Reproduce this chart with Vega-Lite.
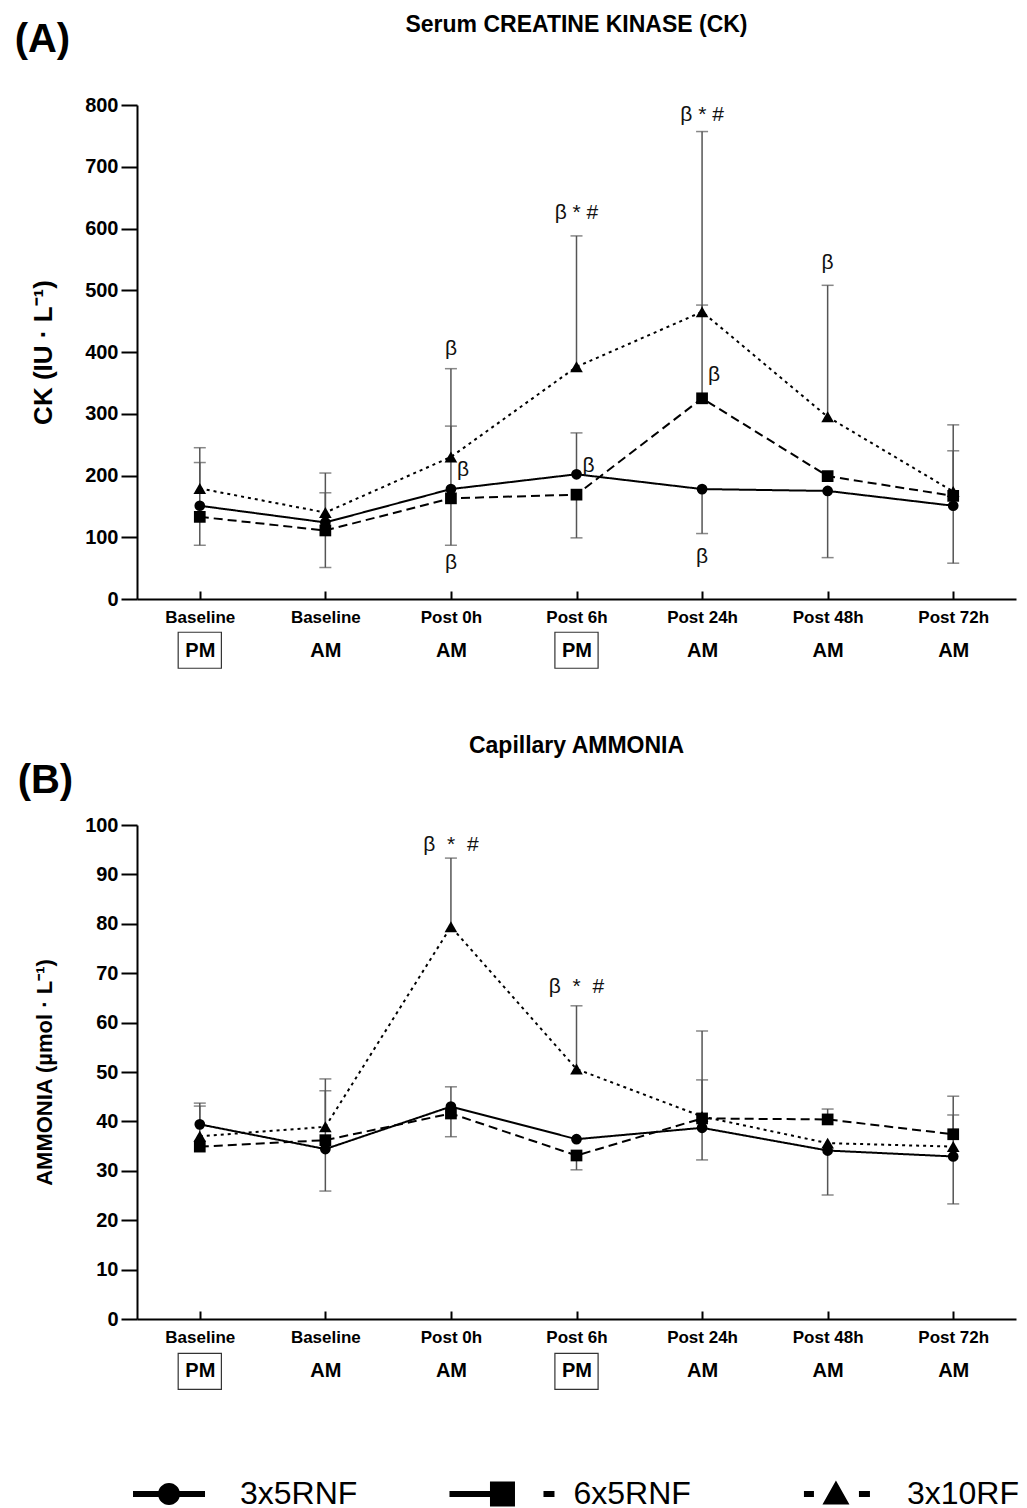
{
  "$schema": "https://vega.github.io/schema/vega-lite/v6.json",
  "padding": {"left": 14, "top": 14, "right": 0, "bottom": 0},
  "background": "white",
  "config": {
    "view": {"stroke": null},
    "font": "Liberation Sans",
    "axis": {"domainColor": "black", "domainWidth": 2, "tickColor": "black", "tickWidth": 2, "labelColor": "black", "titleColor": "black", "grid": false, "labelFont": "Liberation Sans", "titleFont": "Liberation Sans"},
    "axisY": {"tickSize": 16, "labelPadding": 3, "labelFontSize": 20, "labelFontWeight": "bold", "titleFontSize": 22, "titleFontWeight": "bold", "titlePadding": 28},
    "title": {"color": "black", "font": "Liberation Sans"}
  },
  "datasets": {
    "ck": [
      {"series": "3x5RNF", "tp": "Baseline|PM", "value": 151, "bar": 221},
      {"series": "3x5RNF", "tp": "Baseline|AM", "value": 124, "bar": 172},
      {"series": "3x5RNF", "tp": "Post 0h|AM", "value": 178, "bar": 280},
      {"series": "3x5RNF", "tp": "Post 6h|PM", "value": 202, "bar": 269},
      {"series": "3x5RNF", "tp": "Post 24h|AM", "value": 178, "bar": 106},
      {"series": "3x5RNF", "tp": "Post 48h|AM", "value": 175, "bar": 67},
      {"series": "3x5RNF", "tp": "Post 72h|AM", "value": 151, "bar": 58},
      {"series": "6x5RNF", "tp": "Baseline|PM", "value": 133, "bar": 87},
      {"series": "6x5RNF", "tp": "Baseline|AM", "value": 111, "bar": 51},
      {"series": "6x5RNF", "tp": "Post 0h|AM", "value": 163, "bar": 87},
      {"series": "6x5RNF", "tp": "Post 6h|PM", "value": 169, "bar": 99},
      {"series": "6x5RNF", "tp": "Post 24h|AM", "value": 325, "bar": 476},
      {"series": "6x5RNF", "tp": "Post 48h|AM", "value": 199, "bar": null},
      {"series": "6x5RNF", "tp": "Post 72h|AM", "value": 167, "bar": 240},
      {"series": "3x10RF", "tp": "Baseline|PM", "value": 179, "bar": 245},
      {"series": "3x10RF", "tp": "Baseline|AM", "value": 140, "bar": 204},
      {"series": "3x10RF", "tp": "Post 0h|AM", "value": 230, "bar": 373},
      {"series": "3x10RF", "tp": "Post 6h|PM", "value": 376, "bar": 588},
      {"series": "3x10RF", "tp": "Post 24h|AM", "value": 465, "bar": 757},
      {"series": "3x10RF", "tp": "Post 48h|AM", "value": 295, "bar": 508},
      {"series": "3x10RF", "tp": "Post 72h|AM", "value": 174, "bar": 282}
    ],
    "nh3": [
      {"series": "3x5RNF", "tp": "Baseline|PM", "value": 39.4, "bar": 43.7},
      {"series": "3x5RNF", "tp": "Baseline|AM", "value": 34.4, "bar": 25.9},
      {"series": "3x5RNF", "tp": "Post 0h|AM", "value": 43.0, "bar": 47.0},
      {"series": "3x5RNF", "tp": "Post 6h|PM", "value": 36.4, "bar": null},
      {"series": "3x5RNF", "tp": "Post 24h|AM", "value": 38.7, "bar": 32.2},
      {"series": "3x5RNF", "tp": "Post 48h|AM", "value": 34.1, "bar": 25.1},
      {"series": "3x5RNF", "tp": "Post 72h|AM", "value": 32.9, "bar": 23.3},
      {"series": "6x5RNF", "tp": "Baseline|PM", "value": 34.9, "bar": null},
      {"series": "6x5RNF", "tp": "Baseline|AM", "value": 36.2, "bar": 46.2},
      {"series": "6x5RNF", "tp": "Post 0h|AM", "value": 41.6, "bar": 36.9},
      {"series": "6x5RNF", "tp": "Post 6h|PM", "value": 33.1, "bar": 30.2},
      {"series": "6x5RNF", "tp": "Post 24h|AM", "value": 40.6, "bar": 58.3},
      {"series": "6x5RNF", "tp": "Post 48h|AM", "value": 40.4, "bar": 42.5},
      {"series": "6x5RNF", "tp": "Post 72h|AM", "value": 37.4, "bar": 45.1},
      {"series": "3x10RF", "tp": "Baseline|PM", "value": 37.0, "bar": 43.1},
      {"series": "3x10RF", "tp": "Baseline|AM", "value": 38.9, "bar": 48.6},
      {"series": "3x10RF", "tp": "Post 0h|AM", "value": 79.4, "bar": 93.3},
      {"series": "3x10RF", "tp": "Post 6h|PM", "value": 50.6, "bar": 63.4},
      {"series": "3x10RF", "tp": "Post 24h|AM", "value": 41.0, "bar": 48.4},
      {"series": "3x10RF", "tp": "Post 48h|AM", "value": 35.6, "bar": null},
      {"series": "3x10RF", "tp": "Post 72h|AM", "value": 34.9, "bar": 41.3}
    ],
    "ckNotes": [
      {"tp": "Post 0h|AM", "pos": 405, "label": "β", "side": "c"},
      {"tp": "Post 0h|AM", "pos": 209, "label": "β", "side": "r"},
      {"tp": "Post 0h|AM", "pos": 58, "label": "β", "side": "c"},
      {"tp": "Post 6h|PM", "pos": 625, "label": "β * #", "side": "c"},
      {"tp": "Post 6h|PM", "pos": 215, "label": "β", "side": "r"},
      {"tp": "Post 24h|AM", "pos": 784, "label": "β * #", "side": "c"},
      {"tp": "Post 24h|AM", "pos": 363, "label": "β", "side": "r"},
      {"tp": "Post 24h|AM", "pos": 68, "label": "β", "side": "c"},
      {"tp": "Post 48h|AM", "pos": 544, "label": "β", "side": "c"}
    ],
    "nh3Notes": [
      {"tp": "Post 0h|AM", "pos": 96, "label": "β \u00a0* \u00a0#", "side": "c"},
      {"tp": "Post 6h|PM", "pos": 67.3, "label": "β \u00a0* \u00a0#", "side": "c"}
    ],
    "legend": [
      {"item": "3x5RNF"},
      {"item": "6x5RNF"},
      {"item": "3x10RF"}
    ]
  },
  "resolve": {"scale": {"shape": "independent", "size": "independent", "strokeDash": "independent"}},
  "vconcat": [
    {
      "title": {"text": "(A)", "fontSize": 40, "fontWeight": "bold", "anchor": "start", "frame": "bounds", "offset": 0, "dy": 46, "dx": -16},
      "vconcat": [
        {
          "title": {"text": "Serum CREATINE KINASE (CK)", "fontSize": 23, "fontWeight": "bold", "anchor": "middle", "frame": "group", "offset": 58},
          "width": 879,
          "height": 494,
          "resolve": {"axis": {"x": "independent"}},
          "encoding": {
            "y": {"type": "quantitative", "scale": {"domain": [0, 800], "nice": false}, "axis": {"values": [0, 100, 200, 300, 400, 500, 600, 700, 800], "title": "CK (IU · L⁻¹)", "titleFontSize": 26}}
          },
          "layer": [
            {
              "data": {"name": "ck"},
              "transform": [{"filter": "datum.bar != null"}],
              "mark": {"type": "rule", "color": "#555555", "strokeWidth": 1.5},
              "encoding": {
                "x": {"field": "tp", "type": "nominal", "scale": {"type": "point", "domain": ["Baseline|PM", "Baseline|AM", "Post 0h|AM", "Post 6h|PM", "Post 24h|AM", "Post 48h|AM", "Post 72h|AM"], "padding": 0.5},
                  "axis": {"orient": "bottom", "title": null, "labelExpr": "split(datum.label,'|')[0]", "labelFontSize": 17, "labelFontWeight": "bold", "tickSize": -8, "labelPadding": 18, "labelAngle": 0, "labelOverlap": false}},
                "y": {"field": "value"},
                "y2": {"field": "bar"}
              }
            },
            {
              "data": {"name": "ck"},
              "transform": [{"filter": "datum.bar != null"}],
              "mark": {"type": "tick", "color": "#555555", "thickness": 1.5, "size": 12, "orient": "horizontal"},
              "encoding": {
                "x": {"field": "tp", "type": "nominal", "axis": null},
                "y": {"field": "bar"}
              }
            },
            {
              "data": {"name": "ck"},
              "mark": {"type": "line", "color": "black", "strokeWidth": 2},
              "encoding": {
                "x": {"field": "tp", "type": "nominal", "axis": null},
                "y": {"field": "value"},
                "strokeDash": {"field": "series", "type": "nominal", "scale": {"domain": ["3x5RNF", "6x5RNF", "3x10RF"], "range": [[1, 0], [9, 5], [3, 4]]}, "legend": null},
                "order": {"value": null}
              }
            },
            {
              "data": {"name": "ck"},
              "mark": {"type": "point", "filled": true, "color": "black", "opacity": 1, "strokeWidth": 0},
              "encoding": {
                "x": {"field": "tp", "type": "nominal", "axis": null},
                "y": {"field": "value"},
                "shape": {"field": "series", "type": "nominal", "scale": {"domain": ["3x5RNF", "6x5RNF", "3x10RF"], "range": ["circle", "square", "triangle-up"]}, "legend": null},
                "size": {"field": "series", "type": "nominal", "scale": {"domain": ["3x5RNF", "6x5RNF", "3x10RF"], "range": [115, 160, 150]}, "legend": null}
              }
            },
            {
              "data": {"name": "ckNotes"},
              "transform": [{"filter": "datum.side == 'c'"}],
              "mark": {"type": "text", "fontSize": 21, "color": "#111111", "align": "center", "baseline": "middle"},
              "encoding": {
                "x": {"field": "tp", "type": "nominal", "axis": null},
                "y": {"field": "pos"},
                "text": {"field": "label"}
              }
            },
            {
              "data": {"name": "ckNotes"},
              "transform": [{"filter": "datum.side == 'r'"}],
              "mark": {"type": "text", "fontSize": 21, "color": "#111111", "align": "left", "baseline": "middle", "dx": 6},
              "encoding": {
                "x": {"field": "tp", "type": "nominal", "axis": null},
                "y": {"field": "pos"},
                "text": {"field": "label"}
              }
            },
            {
              "data": {"name": "ck"},
              "transform": [{"filter": "datum.series == '3x5RNF' && indexof(datum.tp, '|PM') >= 0"}],
              "mark": {"type": "point", "shape": "M-1.2,-1H1.2V1H-1.2Z", "size": 1296, "filled": false, "stroke": "#333333", "strokeWidth": 1.2, "opacity": 1, "clip": false},
              "encoding": {
                "x": {"field": "tp", "type": "nominal",
                  "axis": {"orient": "bottom", "title": null, "labelExpr": "split(datum.label,'|')[1]", "labelFontSize": 20, "labelFontWeight": "bold", "ticks": false, "domain": false, "labelPadding": 41, "labelAngle": 0, "labelOverlap": false}},
                "y": {"datum": -83}
              }
            }
          ]
        }
      ]
    },
    {
      "title": {"text": "(B)", "fontSize": 40, "fontWeight": "bold", "anchor": "start", "frame": "bounds", "offset": 0, "dy": 66, "dx": -16},
      "spacing": 86,
      "resolve": {"scale": {"shape": "independent", "size": "independent", "strokeDash": "independent"}},
      "vconcat": [
        {
          "title": {"text": "Capillary AMMONIA", "fontSize": 23, "fontWeight": "bold", "anchor": "middle", "frame": "group", "offset": 57},
          "width": 879,
          "height": 494,
          "resolve": {"axis": {"x": "independent"}},
          "encoding": {
            "y": {"type": "quantitative", "scale": {"domain": [0, 100], "nice": false}, "axis": {"values": [0, 10, 20, 30, 40, 50, 60, 70, 80, 90, 100], "title": "AMMONIA (µmol · L⁻¹)"}}
          },
          "layer": [
            {
              "data": {"name": "nh3"},
              "transform": [{"filter": "datum.bar != null"}],
              "mark": {"type": "rule", "color": "#555555", "strokeWidth": 1.5},
              "encoding": {
                "x": {"field": "tp", "type": "nominal", "scale": {"type": "point", "domain": ["Baseline|PM", "Baseline|AM", "Post 0h|AM", "Post 6h|PM", "Post 24h|AM", "Post 48h|AM", "Post 72h|AM"], "padding": 0.5},
                  "axis": {"orient": "bottom", "title": null, "labelExpr": "split(datum.label,'|')[0]", "labelFontSize": 17, "labelFontWeight": "bold", "tickSize": -8, "labelPadding": 18, "labelAngle": 0, "labelOverlap": false}},
                "y": {"field": "value"},
                "y2": {"field": "bar"}
              }
            },
            {
              "data": {"name": "nh3"},
              "transform": [{"filter": "datum.bar != null"}],
              "mark": {"type": "tick", "color": "#555555", "thickness": 1.5, "size": 12, "orient": "horizontal"},
              "encoding": {
                "x": {"field": "tp", "type": "nominal", "axis": null},
                "y": {"field": "bar"}
              }
            },
            {
              "data": {"name": "nh3"},
              "mark": {"type": "line", "color": "black", "strokeWidth": 2},
              "encoding": {
                "x": {"field": "tp", "type": "nominal", "axis": null},
                "y": {"field": "value"},
                "strokeDash": {"field": "series", "type": "nominal", "scale": {"domain": ["3x5RNF", "6x5RNF", "3x10RF"], "range": [[1, 0], [9, 5], [3, 4]]}, "legend": null},
                "order": {"value": null}
              }
            },
            {
              "data": {"name": "nh3"},
              "mark": {"type": "point", "filled": true, "color": "black", "opacity": 1, "strokeWidth": 0},
              "encoding": {
                "x": {"field": "tp", "type": "nominal", "axis": null},
                "y": {"field": "value"},
                "shape": {"field": "series", "type": "nominal", "scale": {"domain": ["3x5RNF", "6x5RNF", "3x10RF"], "range": ["circle", "square", "triangle-up"]}, "legend": null},
                "size": {"field": "series", "type": "nominal", "scale": {"domain": ["3x5RNF", "6x5RNF", "3x10RF"], "range": [115, 160, 150]}, "legend": null}
              }
            },
            {
              "data": {"name": "nh3Notes"},
              "mark": {"type": "text", "fontSize": 21, "color": "#111111", "align": "center", "baseline": "middle"},
              "encoding": {
                "x": {"field": "tp", "type": "nominal", "axis": null},
                "y": {"field": "pos"},
                "text": {"field": "label"}
              }
            },
            {
              "data": {"name": "nh3"},
              "transform": [{"filter": "datum.series == '3x5RNF' && indexof(datum.tp, '|PM') >= 0"}],
              "mark": {"type": "point", "shape": "M-1.2,-1H1.2V1H-1.2Z", "size": 1296, "filled": false, "stroke": "#333333", "strokeWidth": 1.2, "opacity": 1, "clip": false},
              "encoding": {
                "x": {"field": "tp", "type": "nominal",
                  "axis": {"orient": "bottom", "title": null, "labelExpr": "split(datum.label,'|')[1]", "labelFontSize": 20, "labelFontWeight": "bold", "ticks": false, "domain": false, "labelPadding": 41, "labelAngle": 0, "labelOverlap": false}},
                "y": {"datum": -10.6}
              }
            }
          ]
        },
        {
          "width": 879,
          "height": 30,
          "data": {"name": "legend"},
          "layer": [
            {
              "mark": {"type": "point", "filled": true, "color": "black", "opacity": 1, "strokeWidth": 0, "size": 400},
              "encoding": {
                "x": {"field": "item", "type": "nominal", "scale": {"type": "point", "domain": ["3x5RNF", "6x5RNF", "3x10RF"], "padding": 0.318, "align": 0.151}, "axis": null},
                "shape": {"field": "item", "type": "nominal", "scale": {"domain": ["3x5RNF", "6x5RNF", "3x10RF"], "range": [
                  "M-3.6,-0.3H3.6V0.3H-3.6Z M-1.1,0A1.1,1.1 0 1,1 1.1,0A1.1,1.1 0 1,1 -1.1,0Z",
                  "M-5.3,-0.3H-1.25V0.3H-5.3Z M-1.25,-1.25H1.25V1.25H-1.25Z M4.1,-0.3H5.2V0.3H4.1Z",
                  "M-3.2,-0.3H-2.2V0.3H-3.2Z M0,-1.35L1.35,1.05H-1.35Z M2.3,-0.3H3.4V0.3H2.3Z"
                ]}, "legend": null}
              }
            },
            {
              "mark": {"type": "text", "align": "left", "baseline": "middle", "dx": 71, "fontSize": 32, "color": "black"},
              "encoding": {
                "x": {"field": "item", "type": "nominal", "axis": null},
                "text": {"field": "item"}
              }
            }
          ]
        }
      ]
    }
  ],
  "spacing": 64
}
